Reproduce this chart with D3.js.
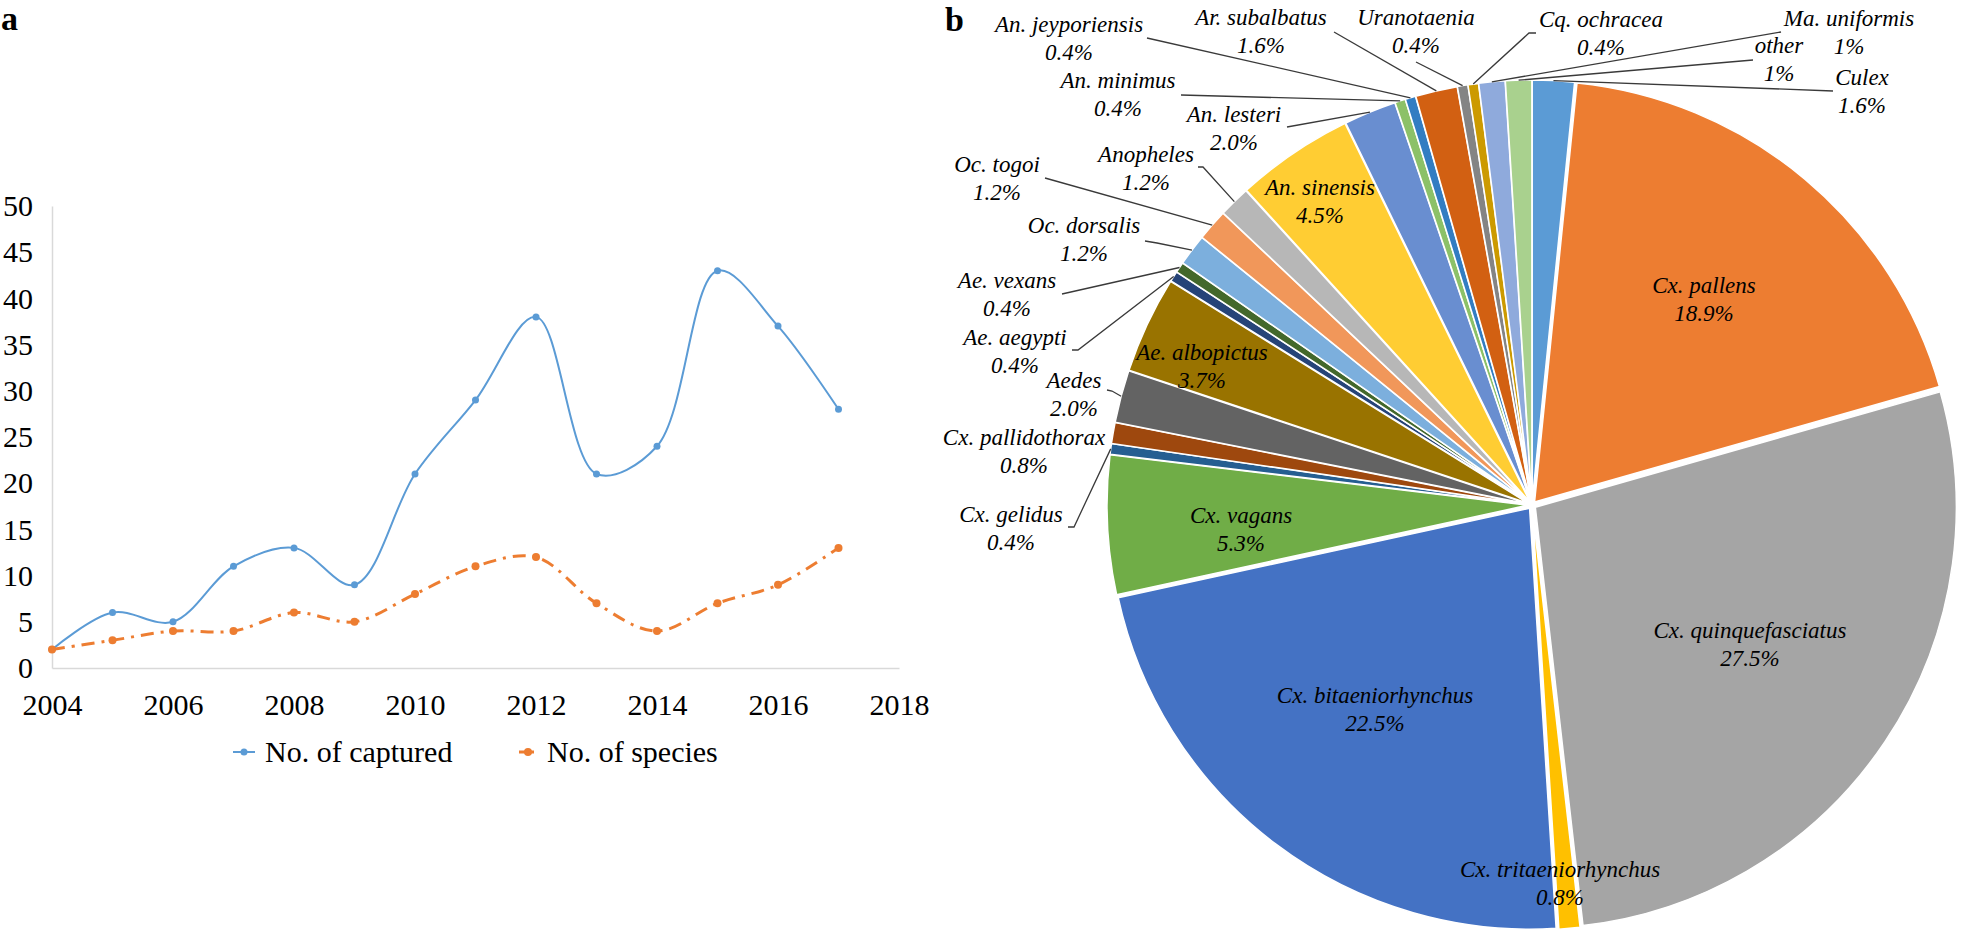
<!DOCTYPE html>
<html><head><meta charset="utf-8">
<script src="https://cdn.jsdelivr.net/npm/d3@7"></script>
<style>
html,body{margin:0;padding:0;background:#fff;}
svg{display:block;}
</style>
</head><body>
<svg id="c" width="1961" height="936"></svg>
<script>
// ---------- Panel a data ----------
const years = [2004,2005,2006,2007,2008,2009,2010,2011,2012,2013,2014,2015,2016,2017];
const captured = [2,6,5,11,13,9,21,29,38,21,24,43,37,28];
const species = [2,3,4,4,6,5,8,11,12,7,4,7,9,13];
const xTickValues = [2004,2006,2008,2010,2012,2014,2016,2018];
const yTickValues = [0,5,10,15,20,25,30,35,40,45,50];
const seriesNames = ["No. of captured","No. of species"];
const seriesColors = ["#5B9BD5","#ED7D31"];

// ---------- Panel b data ----------
const taxa = ["Culex","Cx. pallens","Cx. quinquefasciatus","Cx. tritaeniorhynchus","Cx. bitaeniorhynchus","Cx. vagans","Cx. gelidus","Cx. pallidothorax","Aedes","Ae. albopictus","Ae. aegypti","Ae. vexans","Oc. dorsalis","Oc. togoi","Anopheles","An. sinensis","An. lesteri","An. minimus","An. jeyporiensis","Ar. subalbatus","Uranotaenia","Cq. ochracea","Ma. uniformis","other"];
const shares = [1.6,18.9,27.5,0.8,22.5,5.3,0.4,0.8,2.0,3.7,0.4,0.4,1.2,1.2,1.2,4.5,2.0,0.4,0.4,1.6,0.4,0.4,1,1];
const shareLabels = ["1.6%","18.9%","27.5%","0.8%","22.5%","5.3%","0.4%","0.8%","2.0%","3.7%","0.4%","0.4%","1.2%","1.2%","1.2%","4.5%","2.0%","0.4%","0.4%","1.6%","0.4%","0.4%","1%","1%"];
const sliceColors = ["#5B9BD5","#ED7D31","#A5A5A5","#FFC000","#4472C4","#70AD47","#255E91","#9E480E","#636363","#997300","#264478","#43682B","#7CAFDD","#F1975A","#B7B7B7","#FFCD33","#698ED0","#8CC168","#327DC2","#D26012","#848484","#CC9A00","#8FAADC","#A9D18E"];

// label layout (center x, first baseline y, leader start points)
const labelLayout = [
  {x:1862,y:85,leader:[[1833,91]]},
  {x:1704,y:293},
  {x:1750,y:638},
  {x:1560,y:877},
  {x:1375,y:703},
  {x:1241,y:523},
  {x:1011,y:522,leader:[[1068,527],[1074,527]]},
  {x:1024,y:445},
  {x:1074,y:388,leader:[[1107,390],[1112,391]]},
  {x:1202,y:360},
  {x:1015,y:345,leader:[[1072,350],[1078,350]]},
  {x:1007,y:288,leader:[[1062,294]]},
  {x:1084,y:233,leader:[[1145,241],[1157,243]]},
  {x:997,y:172,leader:[[1045,178]]},
  {x:1146,y:162,leader:[[1198,167],[1203,167]]},
  {x:1320,y:195},
  {x:1234,y:122,leader:[[1287,127]]},
  {x:1118,y:88,leader:[[1181,95]]},
  {x:1069,y:32,leader:[[1147,38]]},
  {x:1261,y:25,leader:[[1334,32]]},
  {x:1416,y:25,leader:[[1416,62]]},
  {x:1601,y:27,leader:[[1536,33],[1529,33]]},
  {x:1849,y:26,leader:[[1781,32]]},
  {x:1779,y:53,leader:[[1753,60]]}
];

const FONT = "Liberation Serif, Times New Roman, DejaVu Serif, serif";
const svg = d3.select("#c").attr("font-family", FONT);

// ---------- Panel a ----------
const x = d3.scaleLinear().domain([2004,2018]).range([52,899]);
const y = d3.scaleLinear().domain([0,50]).range([668,206]);
const gA = svg.append("g");

const xAx = gA.append("g").attr("transform","translate(0,668)")
  .call(d3.axisBottom(x).tickValues(xTickValues).tickFormat(d3.format("d")).tickSize(0).tickPadding(26));
const yAx = gA.append("g").attr("transform","translate(52,0)")
  .call(d3.axisLeft(y).tickValues(yTickValues).tickSize(0).tickPadding(19));
[xAx,yAx].forEach(g=>{
  g.attr("font-family",FONT).attr("font-size",30);
  g.select(".domain").attr("stroke","#D9D9D9").attr("stroke-width",1.5);
  g.selectAll("text").attr("font-size",30).attr("fill","#000").attr("font-family",FONT);
});

const lineGen = d3.line().x((d,i)=>x(years[i])).y(d=>y(d)).curve(d3.curveCatmullRom.alpha(0.5));
const seriesData = [captured, species];
const dashes = [null, "13,7,3,7"];
const widths = [2, 3];
const radii = [3.5, 4];
seriesData.forEach((s,k)=>{
  gA.append("path").datum(s).attr("d",lineGen).attr("fill","none")
    .attr("stroke",seriesColors[k]).attr("stroke-width",widths[k])
    .attr("stroke-dasharray",dashes[k]);
  gA.selectAll(null).data(s).join("circle")
    .attr("cx",(d,i)=>x(years[i])).attr("cy",d=>y(d)).attr("r",radii[k])
    .attr("fill",seriesColors[k]);
});

// legend
const legendX = [233,519];
const lg = gA.append("g");
seriesNames.forEach((n,k)=>{
  const x0 = legendX[k], len = k===0?22:18;
  lg.append("line").attr("x1",x0).attr("x2",x0+len).attr("y1",752).attr("y2",752)
    .attr("stroke",seriesColors[k]).attr("stroke-width",widths[k])
    .attr("stroke-dasharray",k===1?"8,4,3,4":null);
  lg.append("circle").attr("cx",x0+len/2).attr("cy",752).attr("r",radii[k]).attr("fill",seriesColors[k]);
  lg.append("text").attr("x",x0+len+10).attr("y",762).attr("font-size",30).attr("font-family",FONT).attr("fill","#000").text(n);
});

svg.append("text").attr("x",1).attr("y",30).attr("font-size",34).attr("font-family",FONT).attr("font-weight","bold").text("a");
svg.append("text").attr("x",945).attr("y",31).attr("font-size",34).attr("font-family",FONT).attr("font-weight","bold").text("b");

// ---------- Panel b ----------
const cx = 1532, cy = 505, R = 421, explode = 4;
const pie = d3.pie().sort(null).value(d=>d);
const arcs = pie(shares);
const arc = d3.arc().innerRadius(0).outerRadius(R);
const rim = d3.arc().innerRadius(R+explode).outerRadius(R+explode);
const gP = svg.append("g").attr("transform",`translate(${cx},${cy})`);
gP.selectAll("path").data(arcs).join("path")
  .attr("d",arc)
  .attr("transform",d=>{const a=(d.startAngle+d.endAngle)/2;return `translate(${explode*Math.sin(a)},${-explode*Math.cos(a)})`;})
  .attr("fill",(d,i)=>sliceColors[i])
  .attr("stroke","#fff").attr("stroke-width",1.5).attr("stroke-linejoin","round");

// leader lines
arcs.forEach((d,i)=>{
  const L = labelLayout[i];
  if(!L.leader) return;
  const c = rim.centroid(d);
  const pts = L.leader.concat([[cx+c[0], cy+c[1]]]);
  svg.append("path").attr("d",d3.line()(pts)).attr("fill","none")
    .attr("stroke","#3a3a3a").attr("stroke-width",1.3);
});

// labels
const lab = svg.append("g").attr("font-size",23).attr("font-style","italic").attr("font-family",FONT).attr("fill","#000").attr("text-anchor","middle");
taxa.forEach((t,i)=>{
  const L = labelLayout[i];
  const tx = lab.append("text").attr("x",L.x).attr("y",L.y).attr("font-family",FONT);
  tx.append("tspan").attr("x",L.x).text(t);
  tx.append("tspan").attr("x",L.x).attr("dy",28).text(shareLabels[i]);
});
</script>
</body></html>
